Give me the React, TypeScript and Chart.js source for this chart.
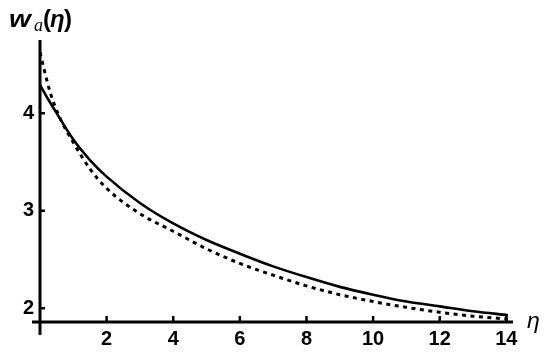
import React, { useEffect, useRef } from "react";
import { Chart, registerables } from "chart.js";

Chart.register(...registerables);

// eta values and curves
const etaSolid = [0, 0.25, 0.5, 1, 1.5, 2, 3, 4, 5, 6, 7, 8, 9, 10, 11, 12, 13, 14.05];
const wSolid = [4.29, 4.14, 4.0, 3.73, 3.52, 3.35, 3.08, 2.87, 2.7, 2.56, 2.43, 2.32, 2.22, 2.14, 2.07, 2.02, 1.97, 1.93];

const etaDashed = [0, 0.3, 0.6, 1, 1.5, 2, 3, 4, 5, 6, 7, 8, 9, 10, 11, 12, 13, 14.05];
const wDashed = [4.62, 4.22, 3.95, 3.7, 3.43, 3.23, 2.97, 2.79, 2.61, 2.46, 2.34, 2.23, 2.14, 2.07, 2.01, 1.96, 1.92, 1.89];

const xTicks = [2, 4, 6, 8, 10, 12, 14];
const yTicks = [2, 3, 4];

const X_MIN = 0;
const X_MAX = 14.2;
const Y_MIN = 1.86;
const Y_MAX = 4.75;

const axesPlugin = {
  id: "mmaAxes",
  afterDraw(chart: any) {
    const { ctx, chartArea, scales } = chart;
    const xs = scales.x;
    const ys = scales.y;
    const x0 = xs.getPixelForValue(0);
    const yb = ys.getPixelForValue(Y_MIN);
    ctx.save();
    ctx.strokeStyle = "#000";
    ctx.lineCap = "butt";
    // axes
    ctx.lineWidth = 3;
    ctx.beginPath();
    ctx.moveTo(x0 - 8, yb);
    ctx.lineTo(chartArea.right, yb);
    ctx.moveTo(x0, chartArea.top);
    ctx.lineTo(x0, yb + 13);
    ctx.stroke();
    // tick marks
    ctx.lineWidth = 2.5;
    ctx.beginPath();
    xTicks.forEach((v) => {
      const p = xs.getPixelForValue(v);
      ctx.moveTo(p, yb);
      ctx.lineTo(p, yb - 6);
    });
    yTicks.forEach((v) => {
      const p = ys.getPixelForValue(v);
      ctx.moveTo(x0, p);
      ctx.lineTo(x0 + 5, p);
    });
    ctx.stroke();
    // y axis label: w_a(η)
    ctx.fillStyle = "#000";
    ctx.textBaseline = "alphabetic";
    ctx.textAlign = "left";
    ctx.save();
    ctx.translate(9, 27);
    ctx.scale(1.22, 1);
    ctx.font = "italic bold 23px 'Liberation Sans', Arial, sans-serif";
    ctx.fillText("w", 0, 0);
    ctx.restore();
    ctx.font = "italic 18px 'Liberation Serif', serif";
    ctx.fillText("a", 34, 31);
    ctx.font = "bold 24px 'Liberation Sans', Arial, sans-serif";
    ctx.fillText("(", 43, 27);
    ctx.font = "italic bold 24px 'Liberation Sans', Arial, sans-serif";
    ctx.fillText("η", 50, 27);
    ctx.font = "bold 24px 'Liberation Sans', Arial, sans-serif";
    ctx.fillText(")", 64, 27);
    // x axis label: η
    ctx.font = "italic 23px 'Liberation Sans', Arial, sans-serif";
    ctx.fillText("η", 527, 328);
    ctx.restore();
  },
};

export default function App() {
  const ref = useRef<HTMLCanvasElement | null>(null);
  useEffect(() => {
    if (!ref.current) return;
    const tickFont = { family: "'Liberation Sans', Arial, sans-serif", size: 20, weight: "bold" as const };
    const chart = new Chart(ref.current, {
      type: "line",
      data: {
        datasets: [
          {
            data: etaSolid.map((x, i) => ({ x, y: wSolid[i] })),
            borderColor: "#000",
            borderWidth: 2.6,
            pointRadius: 0,
            cubicInterpolationMode: "monotone",
            fill: false,
          },
          {
            data: etaDashed.map((x, i) => ({ x, y: wDashed[i] })),
            borderColor: "#000",
            borderWidth: 3,
            borderDash: [4, 4.5],
            borderCapStyle: "butt",
            pointRadius: 0,
            cubicInterpolationMode: "monotone",
            fill: false,
          },
        ],
      },
      options: {
        responsive: false,
        animation: false,
        layout: { padding: { left: 0, top: 40, right: 37, bottom: 0 } },
        plugins: { legend: { display: false }, tooltip: { enabled: false } },
        scales: {
          x: {
            type: "linear",
            min: X_MIN,
            max: X_MAX,
            afterBuildTicks: (s: any) => {
              s.ticks = xTicks.map((v) => ({ value: v }));
            },
            afterFit: (s: any) => {
              s.height = 34;
            },
            grid: { display: false, drawTicks: false },
            border: { display: false },
            ticks: { color: "#000", font: tickFont, padding: 5, maxRotation: 0, autoSkip: false },
          },
          y: {
            type: "linear",
            min: Y_MIN,
            max: Y_MAX,
            afterBuildTicks: (s: any) => {
              s.ticks = yTicks.map((v) => ({ value: v }));
            },
            afterFit: (s: any) => {
              s.width = 40;
            },
            grid: { display: false, drawTicks: false },
            border: { display: false },
            ticks: { color: "#000", font: tickFont, padding: 6, autoSkip: false },
          },
        },
      },
      plugins: [axesPlugin],
    } as any);
    return () => chart.destroy();
  }, []);
  return (
    <div style={{ position: "fixed", left: 0, top: 0, width: 550, height: 356, background: "#fff" }}>
      <canvas ref={ref} width={550} height={356} />
    </div>
  );
}
